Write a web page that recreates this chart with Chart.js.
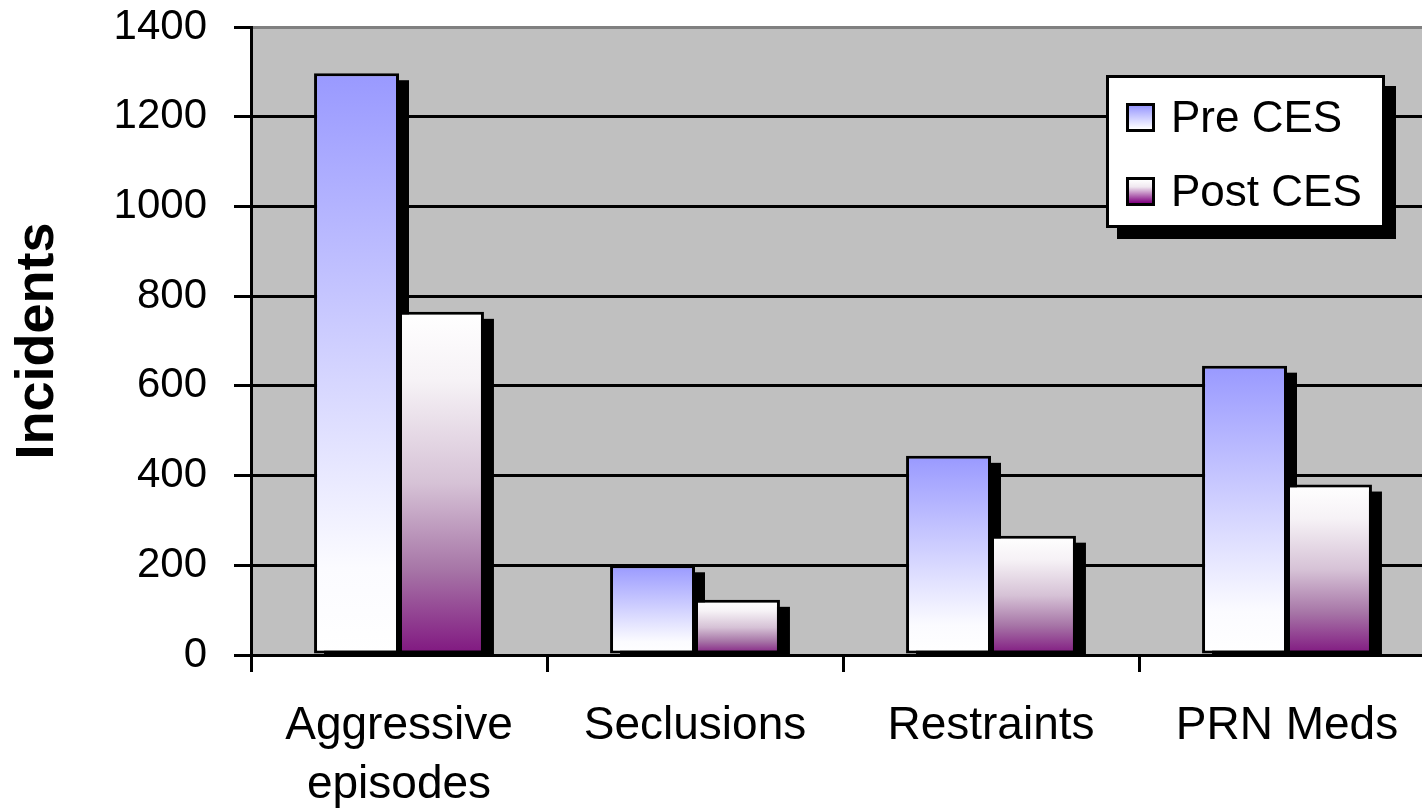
<!DOCTYPE html>
<html>
<head>
<meta charset="utf-8">
<script src="https://cdn.jsdelivr.net/npm/chart.js@4/dist/chart.umd.min.js"></script>
<style>
  html, body { margin: 0; padding: 0; background: #ffffff; overflow: hidden; }
  #wrap { position: absolute; left: 0; top: 0; width: 1440px; height: 809px; }
  #legend {
    position: absolute; left: 1106px; top: 75px; width: 273px; height: 147px;
    background: #ffffff; border: 3px solid #000000; box-shadow: 11px 11px 0 #000000;
    font-family: 'Liberation Sans', Arial, sans-serif; font-size: 44px; color: #000;
  }
  .item { position: absolute; left: 17px; height: 50px; display: flex; align-items: center; }
  .sw { width: 23px; height: 23px; border: 3px solid #000; margin-right: 16px; }
  .item span { line-height: 50px; }
</style>
</head>
<body>
<div id="wrap"><canvas id="c"></canvas></div>
<div id="legend">
  <div class="item" style="top:14px;"><div class="sw" style="background:linear-gradient(#9999ff,#ffffff);"></div><span>Pre CES</span></div>
  <div class="item" style="top:88px;"><div class="sw" style="background:linear-gradient(#ffffff,#f0e8f0 30%,#800080);"></div><span>Post CES</span></div>
</div>
<script>
const categories = [['Aggressive', 'episodes'], 'Seclusions', 'Restraints', 'PRN Meds'];
const preCES = [1297, 200, 444, 645];
const postCES = [765, 123, 266, 380];
const seriesNames = ['Pre CES', 'Post CES'];
const yTicks = [0, 200, 400, 600, 800, 1000, 1200, 1400];

const FONT = "'Liberation Sans', Arial, sans-serif";

// Per-bar vertical gradient running from the bar's top to the baseline
function barGradient(stops) {
  return function (ctx) {
    const chart = ctx.chart;
    const y = chart.scales.y;
    if (!y || ctx.type !== 'data') return stops[0][1];
    const yTop = y.getPixelForValue(ctx.raw);
    const yBase = y.getPixelForValue(0);
    if (!isFinite(yTop) || !isFinite(yBase) || yTop === yBase) return stops[0][1];
    const g = chart.ctx.createLinearGradient(0, yTop, 0, yBase);
    stops.forEach(([at, col]) => g.addColorStop(at, col));
    return g;
  };
}

// Grey plot background
const plotBackground = {
  id: 'plotBackground',
  beforeDraw(chart) {
    const { ctx, chartArea: a } = chart;
    ctx.save();
    ctx.fillStyle = '#c0c0c0';
    ctx.fillRect(a.left, a.top, a.right - a.left, a.bottom - a.top);
    ctx.restore();
  }
};

// Solid black drop shadows behind every bar
const barShadows = {
  id: 'barShadows',
  beforeDatasetsDraw(chart) {
    const { ctx, chartArea: a } = chart;
    ctx.save();
    ctx.beginPath();
    ctx.rect(a.left, a.top, a.right - a.left, a.bottom - a.top);
    ctx.clip();
    ctx.fillStyle = '#000000';
    chart.data.datasets.forEach((ds, i) => {
      chart.getDatasetMeta(i).data.forEach(bar => {
        const p = bar.getProps(['x', 'y', 'width', 'base'], true);
        const left = p.x - p.width / 2 + 10;
        ctx.fillRect(left, p.y + 7, p.width, p.base - p.y);
      });
    });
    ctx.restore();
  }
};

new Chart(document.getElementById('c'), {
  type: 'bar',
  data: {
    labels: categories,
    datasets: [
      {
        label: seriesNames[0],
        data: preCES,
        backgroundColor: barGradient([[0, '#9999ff'], [0.85, '#fbfbff'], [1, '#ffffff']]),
        borderColor: '#000000',
        borderWidth: 3,
        borderSkipped: false
      },
      {
        label: seriesNames[1],
        data: postCES,
        backgroundColor: barGradient([[0, '#ffffff'], [0.2, '#f6f2f6'], [0.5, '#d6c2d6'], [0.75, '#a776a7'], [1, '#801680']]),
        borderColor: '#000000',
        borderWidth: 3,
        borderSkipped: false
      }
    ]
  },
  options: {
    responsive: true,
    maintainAspectRatio: false,
    animation: false,
    events: [],
    layout: { padding: { top: 27, right: 5, left: 0, bottom: 0 } },
    datasets: { bar: { categoryPercentage: 0.574, barPercentage: 1.0 } },
    plugins: { legend: { display: false }, tooltip: { enabled: false } },
    scales: {
      x: {
        afterFit(s) { s.height = 154; s.paddingLeft = 0; s.paddingRight = 0; },
        border: { display: true, color: '#000000', width: 3 },
        grid: {
          display: true, drawOnChartArea: false, offset: true,
          color: '#000000', lineWidth: 3, tickLength: 17
        },
        ticks: {
          color: '#000000', padding: 24, maxRotation: 0, autoSkip: false,
          font: { family: FONT, size: 46, lineHeight: 1.3 }
        }
      },
      y: {
        min: 0, max: 1400,
        afterFit(s) { s.width = 251; s.paddingTop = 0; s.paddingBottom = 0; },
        afterBuildTicks(s) { s.ticks = yTicks.map(v => ({ value: v })); },
        border: { display: true, color: '#000000', width: 3 },
        grid: {
          color: ctx => (ctx.tick && ctx.tick.value === 1400 ? '#808080' : '#000000'),
          tickColor: '#000000',
          lineWidth: 3, tickLength: 17
        },
        ticks: {
          color: '#000000', padding: 27,
          callback: v => String(v),
          font: { family: FONT, size: 42 }
        },
        title: {
          display: true, text: 'Incidents', color: '#000000',
          padding: { top: 6, bottom: 0 },
          font: { family: FONT, size: 54, weight: 'bold' }
        }
      }
    }
  },
  plugins: [plotBackground, barShadows]
});
</script>
</body>
</html>
